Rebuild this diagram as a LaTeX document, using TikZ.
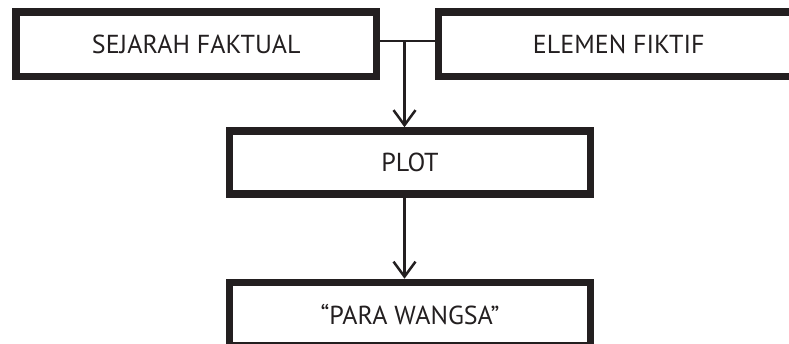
\documentclass[tikz,border=0pt]{standalone}
\usepackage{fontspec}
\setmainfont{PT Sans}
\usepackage{tikz}
\usetikzlibrary{arrows.meta}
\definecolor{inkclr}{RGB}{35, 31, 32}

\tikzset{
  stagebox/.style={draw=inkclr, line width=7.5pt, rectangle, minimum width=361pt,
    minimum height=63.5pt, text=inkclr, inner sep=0pt},
  flowline/.style={draw=inkclr, line width=2.5pt},
  flowarrow/.style={flowline, -{Straight Barb[length=15pt, width=22pt]}}
}

\begin{document}
\begin{tikzpicture}[x=1pt, y=-1pt, font=\fontsize{26}{30}\selectfont]
  \useasboundingbox (0,0) rectangle (789,344);
  % sources
  \node[stagebox, minimum width=360.7pt, minimum height=64.5pt] (sejarah) at (196.3,44.25) {SEJARAH FAKTUAL};
  \node[stagebox, minimum width=361pt, minimum height=64.5pt] (elemen) at (618.8,44.25) {ELEMEN FIKTIF};
  % merge point
  \coordinate (junction) at (404.5,41);
  \draw[flowline] (sejarah.east |- junction) -- (elemen.west |- junction);
  % result boxes
  \node[stagebox, minimum height=63pt] (plot) at (410,162.5) {PLOT};
  \node[stagebox] (wangsa) at (410,314.25) {``PARA WANGSA''};
  % arrows
  \draw[flowarrow] (junction) -- (plot.north -| junction);
  \draw[flowarrow] (plot.south -| junction) -- (wangsa.north -| junction);
\end{tikzpicture}
\end{document}
